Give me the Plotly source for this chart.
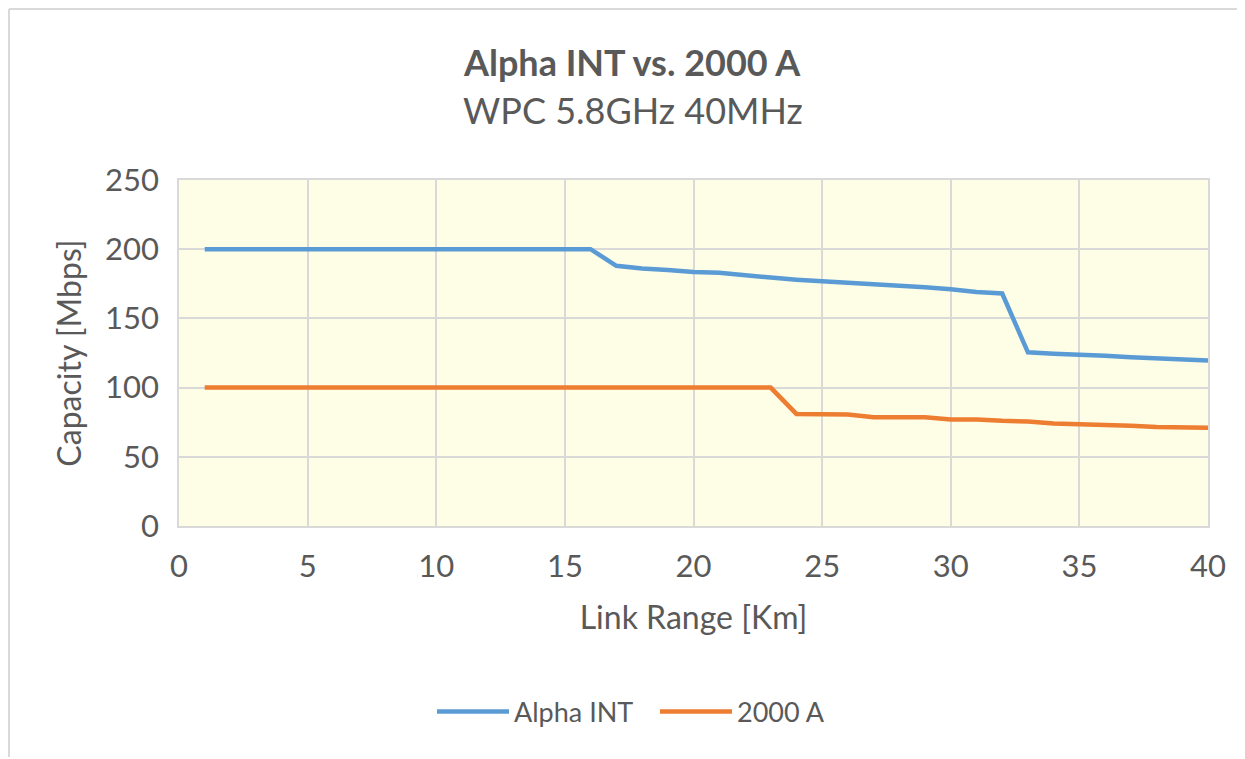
import plotly.graph_objects as go

link_range_km = list(range(1, 41))
alpha_int = [200] * 16 + [188, 186, 185, 183.5, 183, 181, 179.5, 178, 177, 175.5, 175, 174,
                          172.5, 171, 169, 168, 125.5, 124.5, 124, 123, 122, 121, 120.5, 119.5]
model_2000a = [100] * 23 + [81, 81, 80.5, 78.5, 78.5, 78.5, 77, 77, 76, 75.5, 74, 73.5, 73.5,
                            72.5, 71.5, 71, 71]
x_ticks = [0, 5, 10, 15, 20, 25, 30, 35, 40]
y_ticks = [0, 50, 100, 150, 200, 250]

OFF = 8  # page body margin
W, H = 1245 - OFF, 759 - OFF
# target plot area in page pixels: x 179..1208, y 180..526
L, T = 179 - OFF, 180 - OFF
R = W - (1208 - OFF)
B = H - (526 - OFF)
pw, ph = W - L - R, H - T - B

def px_x(p):
    return (p - OFF - L) / pw

def px_y(p):
    return (H - B - (p - OFF)) / ph

FONT = "Lato"
GREY = "#595959"

fig = go.Figure()
fig.add_trace(go.Scatter(x=link_range_km, y=alpha_int, mode="lines", name="Alpha INT",
                         line=dict(color="#5B9BD5", width=4.5)))
fig.add_trace(go.Scatter(x=link_range_km, y=model_2000a, mode="lines", name="2000 A",
                         line=dict(color="#ED7D31", width=4.5)))

fig.update_layout(
    width=W, height=H,
    margin=dict(l=L, r=R, t=T, b=B),
    paper_bgcolor="white",
    plot_bgcolor="#FEFEE7",
    font=dict(family=FONT, color=GREY),
    showlegend=True,
    legend=dict(orientation="h", x=px_x(432), xanchor="left", y=px_y(712), yanchor="middle",
                font=dict(size=27, color=GREY), itemwidth=72,
                entrywidth=136, entrywidthmode="pixels"),
    xaxis=dict(range=[0, 40], tickvals=x_ticks, showgrid=True, gridcolor="#D9D9D9", gridwidth=1.5,
               zeroline=False, showline=True, linecolor="#D9D9D9", linewidth=1.5, mirror=True,
               tickfont=dict(size=31, color=GREY), ticks="outside", ticklen=12, tickcolor="rgba(0,0,0,0)",
               title=dict(text="Link Range [Km]", font=dict(size=32, color=GREY), standoff=24)),
    yaxis=dict(range=[0, 250], tickvals=y_ticks, showgrid=True, gridcolor="#D9D9D9", gridwidth=1.5,
               zeroline=False, showline=True, linecolor="#D9D9D9", linewidth=1.5, mirror=True,
               tickfont=dict(size=31, color=GREY), ticks="outside", ticklen=12, tickcolor="rgba(0,0,0,0)",
               title=dict(text="Capacity [Mbps]", font=dict(size=32, color=GREY), standoff=14)),
    annotations=[
        dict(text="<b>Alpha INT vs. 2000 A</b>", xref="paper", yref="paper",
             x=px_x(632), y=px_y(62), xanchor="center", yanchor="middle", showarrow=False,
             font=dict(size=36, color=GREY, family=FONT)),
        dict(text="WPC 5.8GHz 40MHz", xref="paper", yref="paper",
             x=px_x(633), y=px_y(110), xanchor="center", yanchor="middle", showarrow=False,
             font=dict(size=36, color=GREY, family=FONT)),
    ],
    shapes=[
        dict(type="line", xref="paper", yref="paper", x0=px_x(9), x1=px_x(1260),
             y0=px_y(9), y1=px_y(9), line=dict(color="#D9D9D9", width=2), layer="below"),
        dict(type="line", xref="paper", yref="paper", x0=px_x(9), x1=px_x(9),
             y0=px_y(9), y1=px_y(757), line=dict(color="#D9D9D9", width=2), layer="below"),
    ],
)

fig.write_html("out.html")
